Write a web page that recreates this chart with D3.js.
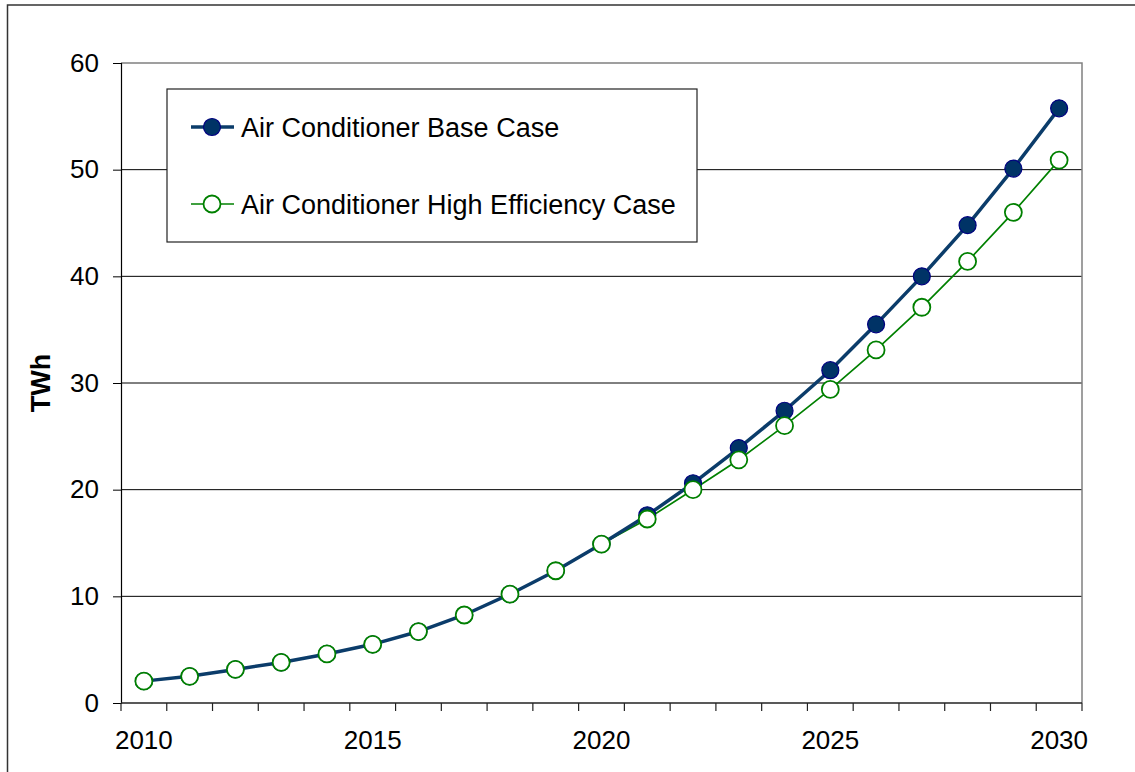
<!DOCTYPE html>
<html>
<head>
<meta charset="utf-8">
<script src="https://cdn.jsdelivr.net/npm/d3@7/dist/d3.min.js"></script>
<style>
  html, body { margin: 0; padding: 0; background: #fff; }
  svg { display: block; font-family: "Liberation Sans", Arial, sans-serif; }
</style>
</head>
<body>
<svg id="chart" width="1135" height="772"></svg>
<script>
// Annual air-conditioner electricity use, TWh
const years = d3.range(2010, 2031);
const baseCase = [2.05, 2.5, 3.15, 3.8, 4.6, 5.5, 6.7, 8.25, 10.2, 12.4, 14.9,
                  17.6, 20.6, 23.9, 27.4, 31.2, 35.5, 40.0, 44.8, 50.1, 55.75];
const highEffCase = [2.05, 2.5, 3.15, 3.8, 4.6, 5.5, 6.7, 8.25, 10.2, 12.4, 14.9,
                     17.25, 20.0, 22.8, 26.0, 29.4, 33.1, 37.1, 41.4, 46.0, 50.9];
const xTickLabels = [2010, 2015, 2020, 2025, 2030];
const yTicks = [0, 10, 20, 30, 40, 50, 60];
const seriesNames = ["Air Conditioner Base Case", "Air Conditioner High Efficiency Case"];

const svg = d3.select("#chart");
const plot = { left: 121, right: 1082, top: 63, bottom: 703 };

const x = d3.scaleBand().domain(years).range([plot.left, plot.right]).paddingInner(0).paddingOuter(0);
const y = d3.scaleLinear().domain([0, 60]).range([plot.bottom, plot.top]);
const cx = d => x(d) + x.bandwidth() / 2;

// outer chart frame
svg.append("rect")
  .attr("x", 7.5).attr("y", 5).attr("width", 1200).attr("height", 900)
  .attr("fill", "none").attr("stroke", "#333").attr("stroke-width", 1.5);

// horizontal gridlines
svg.append("g").selectAll("line")
  .data(yTicks.filter(t => t > 0 && t < 60))
  .join("line")
  .attr("x1", plot.left).attr("x2", plot.right)
  .attr("y1", d => y(d)).attr("y2", d => y(d))
  .attr("stroke", "#000").attr("stroke-width", 1);

// plot area frame (top and right)
svg.append("path")
  .attr("d", `M${plot.left},${y(60)}H${plot.right}V${plot.bottom}`)
  .attr("fill", "none").attr("stroke", "#808080").attr("stroke-width", 1.5);

// y axis
const yAxis = d3.axisLeft(y).tickValues(yTicks).tickSize(8).tickPadding(14).tickFormat(d3.format("d"));
const gy = svg.append("g").attr("transform", `translate(${plot.left},0)`).call(yAxis);
gy.select(".domain").attr("stroke", "#000").attr("stroke-width", 1.2);
gy.selectAll(".tick line").attr("stroke", "#000");
gy.selectAll(".tick text").attr("font-size", 26).attr("fill", "#000")
  .attr("font-family", "Liberation Sans, Arial, sans-serif");

// x axis: ticks on category boundaries, labels every five years
const gx = svg.append("g");
gx.append("line")
  .attr("x1", plot.left).attr("x2", plot.right)
  .attr("y1", plot.bottom).attr("y2", plot.bottom)
  .attr("stroke", "#222").attr("stroke-width", 1.5);
const boundaries = years.map(d => x(d)).concat([plot.right]);
gx.selectAll("line.tick")
  .data(boundaries)
  .join("line").attr("class", "tick")
  .attr("x1", d => d).attr("x2", d => d)
  .attr("y1", plot.bottom).attr("y2", plot.bottom + 8)
  .attr("stroke", "#222").attr("stroke-width", 1.2);
gx.selectAll("text")
  .data(xTickLabels)
  .join("text")
  .attr("x", d => cx(d)).attr("y", 749)
  .attr("text-anchor", "middle").attr("font-size", 26).attr("fill", "#000")
  .text(d => d);

// y axis title
svg.append("text")
  .attr("transform", `translate(50,${(plot.top + plot.bottom) / 2}) rotate(-90)`)
  .attr("text-anchor", "middle").attr("font-size", 27).attr("font-weight", "bold")
  .text("TWh");

const line = d3.line().x((d, i) => cx(years[i])).y(d => y(d));

// high efficiency series
svg.append("path").datum(highEffCase)
  .attr("d", line).attr("fill", "none").attr("stroke", "#008000").attr("stroke-width", 1.7);

// base case series (drawn over)
svg.append("path").datum(baseCase)
  .attr("d", line).attr("fill", "none").attr("stroke", "#0b3c6a").attr("stroke-width", 3.5);

svg.append("g").selectAll("circle")
  .data(baseCase)
  .join("circle")
  .attr("cx", (d, i) => cx(years[i])).attr("cy", d => y(d)).attr("r", 8.5)
  .attr("fill", "#003366").attr("stroke", "#000080").attr("stroke-width", 1.2);

svg.append("g").selectAll("circle")
  .data(highEffCase)
  .join("circle")
  .attr("cx", (d, i) => cx(years[i])).attr("cy", d => y(d)).attr("r", 8.5)
  .attr("fill", "#fff").attr("stroke", "#008000").attr("stroke-width", 1.8);

// legend
const legend = svg.append("g");
legend.append("rect")
  .attr("x", 167).attr("y", 89).attr("width", 530).attr("height", 153)
  .attr("fill", "#fff").attr("stroke", "#222").attr("stroke-width", 1.2);

const legendRows = [
  { name: seriesNames[0], y: 127, stroke: "#0b3c6a", width: 3.5, fill: "#003366", mstroke: "#000080", mw: 1.2 },
  { name: seriesNames[1], y: 204, stroke: "#008000", width: 1.7, fill: "#fff", mstroke: "#008000", mw: 1.8 }
];
legendRows.forEach(r => {
  legend.append("line")
    .attr("x1", 191).attr("x2", 234).attr("y1", r.y).attr("y2", r.y)
    .attr("stroke", r.stroke).attr("stroke-width", r.width);
  legend.append("circle")
    .attr("cx", 212).attr("cy", r.y).attr("r", 8.5)
    .attr("fill", r.fill).attr("stroke", r.mstroke).attr("stroke-width", r.mw);
  legend.append("text")
    .attr("x", 241).attr("y", r.y + 10)
    .attr("font-size", 27).attr("fill", "#000")
    .text(r.name);
});
</script>
</body>
</html>
